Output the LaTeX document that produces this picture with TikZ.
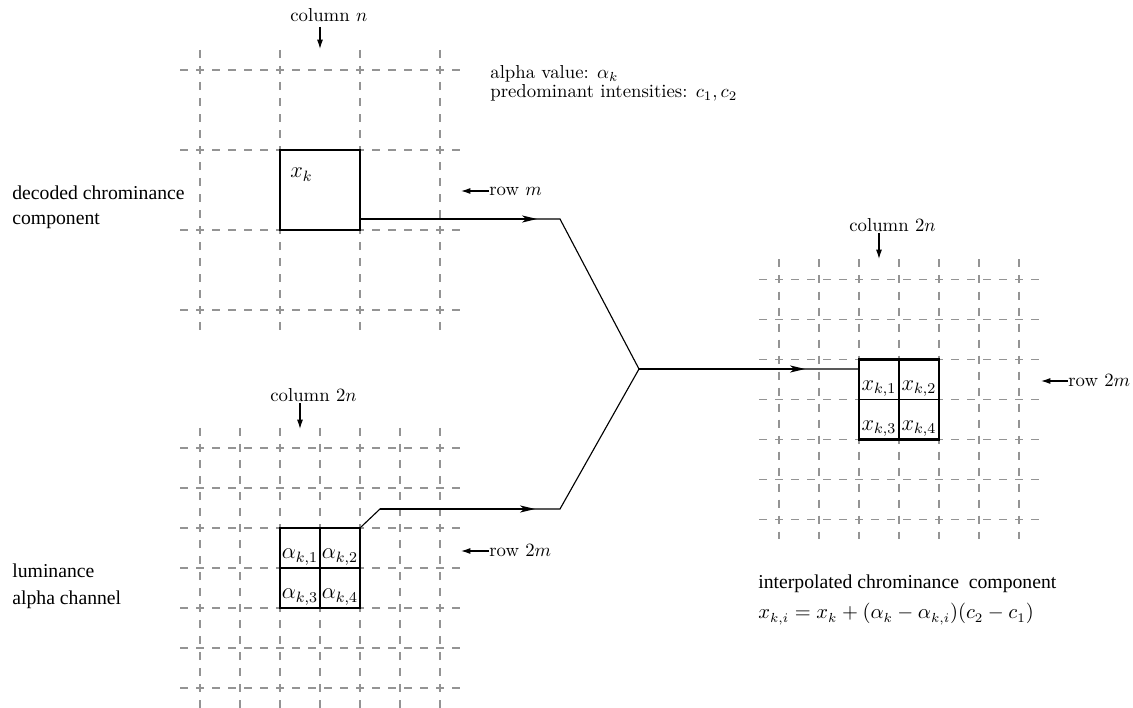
\documentclass[tikz,border=0pt]{standalone}
\usepackage{fontspec}
\newfontfamily\tms{Liberation Serif}
\usetikzlibrary{arrows.meta,calc}
\begin{document}
\begin{tikzpicture}[x=0.5333pt,y=-0.5333pt,
  gridline/.style={draw=black!42, line width=0.55pt, dash pattern=on 4.2667pt off 4.2667pt},
  bigbox/.style={draw, line width=1.1pt, fill=white, minimum size=42.67pt, inner sep=0pt},
  cellline/.style={line width=0.55pt},
  conn/.style={line width=0.6pt},
  midarr/.style={line width=0.6pt, -{Stealth[length=8pt,width=3.8pt,inset=2.2pt]}},
  lblarr/.style={line width=0.6pt, -{Latex[length=5pt,width=3.2pt]}},
  cmlab/.style={inner sep=0pt, font=\fontsize{10}{12}\selectfont},
  tlab/.style={inner sep=0pt, anchor=base west, font=\tms\fontsize{10.5}{12}\selectfont},
  mlab/.style={inner sep=0pt, anchor=base, font=\large},
]
\useasboundingbox (0,0) rectangle (1133,708);

% ---------- grids ----------
% top-left coarse grid
\foreach \x in {200,280,360,440} \draw[gridline] (\x,50) -- (\x,330);
\foreach \y in {70,150,230,310} \draw[gridline] (180,\y) -- (460,\y);
% bottom-left fine grid
\foreach \x in {200,240,...,440} \draw[gridline] (\x,428) -- (\x,708);
\foreach \y in {448,488,...,688} \draw[gridline] (180,\y) -- (460,\y);
% right fine grid
\foreach \x in {779,819,...,1019} \draw[gridline] (\x,259.5) -- (\x,539.5);
\foreach \y in {279.5,319.5,...,519.5} \draw[gridline] (759,\y) -- (1039,\y);

% ---------- boxes ----------
\node[bigbox] (xk) at (320,190) {};
\node[bigbox] (ab) at (320,568) {};
\node[bigbox] (xb) at (899,399.5) {};
\draw[cellline] (ab.north) -- (ab.south);
\draw[cellline] (ab.west) -- (ab.east);
\draw[cellline] (xb.north) -- (xb.south);
\draw[cellline] (xb.west) -- (xb.east);

\node[mlab, anchor=base west] (xkl) at (290,178) {$x_k$};
\node[mlab] (a1) at (300,559) {$\alpha_{k,1}$};
\node[mlab] (a2) at (340,559) {$\alpha_{k,2}$};
\node[mlab] (a3) at (300,599) {$\alpha_{k,3}$};
\node[mlab] (a4) at (340,599) {$\alpha_{k,4}$};
\node[mlab] (x1) at (879,390.5) {$x_{k,1}$};
\node[mlab] (x2) at (919,390.5) {$x_{k,2}$};
\node[mlab] (x3) at (879,430.5) {$x_{k,3}$};
\node[mlab] (x4) at (919,430.5) {$x_{k,4}$};

% ---------- connectors ----------
\coordinate (ta) at (537,219);
\coordinate (tb) at (560,219);
\coordinate (jn) at (639,369);
\coordinate (bb0) at (380,509);
\coordinate (bb) at (560,509);
\coordinate (ba) at (535,509);
\coordinate (ra) at (805,369);
\draw[conn] (xk.east |- ta) -- (tb) -- (jn) -- (xb.west |- jn);
\draw[midarr] (xk.east |- ta) -- (ta);
\draw[midarr] (jn) -- (ra);
\draw[conn] (ab.north east) -- (bb0) -- (bb) -- (jn);
\draw[midarr] (bb0) -- (ba);

% ---------- column / row labels ----------
\node[cmlab, anchor=west] (coln) at (290,15) {column $n$};
\coordinate (cnA) at (320,27); \coordinate (cnB) at (320,49);
\draw[lblarr] (cnA) -- (cnB);

\node[cmlab, anchor=west] (col2a) at (270,395) {column $2n$};
\coordinate (c2aA) at (300,403); \coordinate (c2aB) at (300,429);
\draw[lblarr] (c2aA) -- (c2aB);

\node[cmlab, anchor=west] (col2b) at (849,225) {column $2n$};
\coordinate (c2bA) at (879,233); \coordinate (c2bB) at (879,259);
\draw[lblarr] (c2bA) -- (c2bB);

\node[cmlab, anchor=west] (rowm) at (489,191) {row $m$};
\coordinate (rmT) at (461,191);
\draw[lblarr] (rowm.west) -- (rmT);

\node[cmlab, anchor=west] (row2a) at (489,551) {row $2m$};
\coordinate (r2aT) at (461,551);
\draw[lblarr] (row2a.west) -- (r2aT);

\node[cmlab, anchor=west] (row2b) at (1068,381) {row $2m$};
\coordinate (r2bT) at (1041,381);
\draw[lblarr] (row2b.west) -- (r2bT);

% ---------- text ----------
\node[cmlab, anchor=base west] (alv) at (490,79) {alpha value: $\alpha_k$};
\node[cmlab, anchor=base west] (pri) at (490,98) {predominant intensities: $c_1, c_2$};

\node[tlab] (dc1) at (12,200) {decoded chrominance};
\node[tlab] (dc2) at (12,225) {component};
\node[tlab] (lu1) at (12,578) {luminance};
\node[tlab] (lu2) at (12,604) {alpha channel};
\node[tlab] (ic) at (758,589) {interpolated chrominance\ \ component};
\node[inner sep=0pt, anchor=base west, font=\fontsize{10.5}{13}\selectfont] (fm) at (758,619)
  {$x_{k,i} = x_k + (\alpha_k - \alpha_{k,i})(c_2 - c_1)$};
\end{tikzpicture}
\end{document}
